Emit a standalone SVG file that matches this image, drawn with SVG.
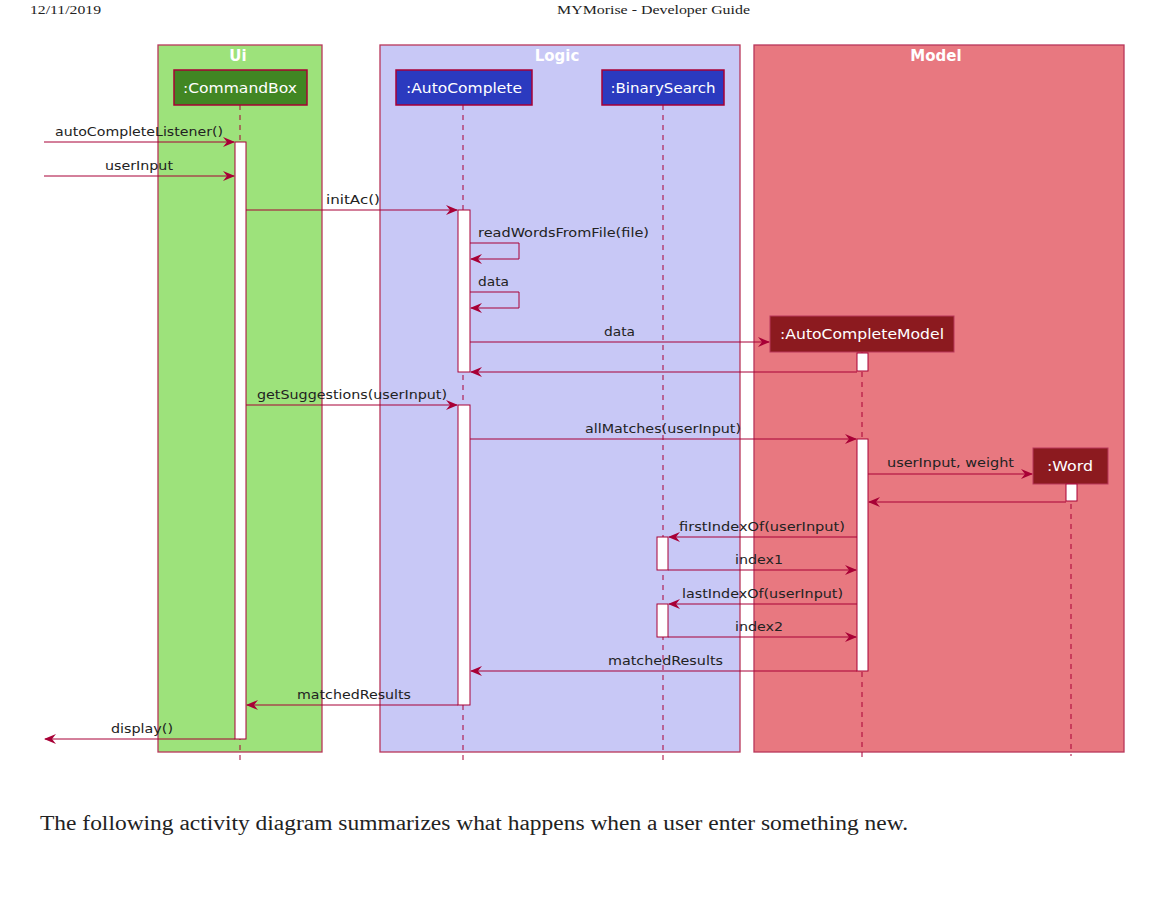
<svg xmlns="http://www.w3.org/2000/svg" width="1172" height="900" viewBox="0 0 1172 900">
<style>
.page{font-family:"Liberation Serif","Times New Roman",serif;fill:#222}
.grp{stroke:#B8365A;stroke-width:1.3}
.gt{font-family:"DejaVu Sans","Liberation Sans",sans-serif;font-weight:bold;font-size:15px;fill:#fff;text-anchor:middle}
.pt{font-family:"DejaVu Sans","Liberation Sans",sans-serif;font-size:14px;fill:#fff;text-anchor:middle}
.pbox{stroke:#A80036;stroke-width:1.5}
.life{stroke:#A80036;stroke-width:1;stroke-dasharray:5,5;fill:none}
.act{fill:#fff;stroke:#A80036;stroke-width:1}
.msg{stroke:#A80036;stroke-width:1;fill:none}
.lbl{font-family:"DejaVu Sans","Liberation Sans",sans-serif;font-size:13px;fill:#222}
</style>
<defs>
<marker id="ah" viewBox="0 0 12 10" refX="11" refY="5" markerWidth="12" markerHeight="10" markerUnits="userSpaceOnUse" orient="auto">
<path d="M0,0 L12,5 L0,10 L4,5 Z" fill="#A80036"/>
</marker>
</defs>
<rect width="1172" height="900" fill="#fff"/>
<text class="page" x="30" y="14" font-size="13" textLength="71" lengthAdjust="spacingAndGlyphs">12/11/2019</text>
<text class="page" x="557" y="14" font-size="13" textLength="193" lengthAdjust="spacingAndGlyphs">MYMorise - Developer Guide</text>

<g id="box-ui"><rect class="grp" x="158" y="45" width="164" height="707" fill="#9DE27B"/><text class="gt" x="238" y="61">Ui</text></g>
<g id="box-logic"><rect class="grp" x="380" y="45" width="360" height="707" fill="#C8C8F6"/><text class="gt" x="557" y="61">Logic</text></g>
<g id="box-model"><rect class="grp" x="754" y="45" width="370" height="707" fill="#E87880"/><text class="gt" x="936" y="61">Model</text></g>

<g id="lifelines">
<line class="life" x1="240" y1="105" x2="240" y2="760"/>
<line class="life" x1="463" y1="105" x2="463" y2="760"/>
<line class="life" x1="663" y1="105" x2="663" y2="760"/>
<line class="life" x1="862" y1="352" x2="862" y2="760"/>
<line class="life" x1="1071" y1="484" x2="1071" y2="756"/>
</g>

<g id="commandbox"><rect class="pbox" x="174" y="70" width="133" height="35" fill="#418623"/><text class="pt" x="240" y="93" textLength="114" lengthAdjust="spacingAndGlyphs">:CommandBox</text>
<rect class="act" x="235" y="142" width="11" height="597"/></g>
<g id="autocomplete"><rect class="pbox" x="396" y="70" width="136" height="35" fill="#2B3ABF"/><text class="pt" x="464" y="93" textLength="116" lengthAdjust="spacingAndGlyphs">:AutoComplete</text>
<rect class="act" x="458" y="210" width="12" height="162"/>
<rect class="act" x="458" y="405" width="12" height="300"/></g>
<g id="binarysearch"><rect class="pbox" x="602" y="70" width="122" height="35" fill="#2B3ABF"/><text class="pt" x="663" y="93" textLength="105" lengthAdjust="spacingAndGlyphs">:BinarySearch</text>
<rect class="act" x="657" y="537" width="11" height="33"/>
<rect class="act" x="657" y="604" width="11" height="33"/></g>
<g id="autocompletemodel"><rect x="770" y="316" width="184" height="36" fill="#8C1A1F" stroke="#B8365A" stroke-width="1"/><text class="pt" x="862" y="339" textLength="164" lengthAdjust="spacingAndGlyphs">:AutoCompleteModel</text>
<rect class="act" x="857" y="353" width="11" height="18"/>
<rect class="act" x="857" y="439" width="11" height="232"/></g>
<g id="word"><rect x="1033" y="448" width="75" height="36" fill="#8C1A1F" stroke="#B8365A" stroke-width="1"/><text class="pt" x="1070" y="471" textLength="46" lengthAdjust="spacingAndGlyphs">:Word</text>
<rect class="act" x="1066" y="484" width="11" height="17"/></g>

<g id="connectors">
<line class="msg" x1="44" y1="142" x2="234" y2="142" marker-end="url(#ah)"/>
<line class="msg" x1="44" y1="176" x2="234" y2="176" marker-end="url(#ah)"/>
<line class="msg" x1="246" y1="210" x2="457" y2="210" marker-end="url(#ah)"/>
<polyline class="msg" points="470,243 519,243 519,259 471,259" marker-end="url(#ah)"/>
<polyline class="msg" points="470,292 519,292 519,308 471,308" marker-end="url(#ah)"/>
<line class="msg" x1="470" y1="342" x2="769" y2="342" marker-end="url(#ah)"/>
<line class="msg" x1="857" y1="372" x2="471" y2="372" marker-end="url(#ah)"/>
<line class="msg" x1="246" y1="405" x2="457" y2="405" marker-end="url(#ah)"/>
<line class="msg" x1="470" y1="439" x2="856" y2="439" marker-end="url(#ah)"/>
<line class="msg" x1="868" y1="474" x2="1032" y2="474" marker-end="url(#ah)"/>
<line class="msg" x1="1066" y1="502" x2="869" y2="502" marker-end="url(#ah)"/>
<line class="msg" x1="857" y1="537" x2="669" y2="537" marker-end="url(#ah)"/>
<line class="msg" x1="668" y1="570" x2="856" y2="570" marker-end="url(#ah)"/>
<line class="msg" x1="857" y1="604" x2="669" y2="604" marker-end="url(#ah)"/>
<line class="msg" x1="668" y1="637" x2="856" y2="637" marker-end="url(#ah)"/>
<line class="msg" x1="857" y1="671" x2="471" y2="671" marker-end="url(#ah)"/>
<line class="msg" x1="458" y1="705" x2="247" y2="705" marker-end="url(#ah)"/>
<line class="msg" x1="235" y1="739" x2="45" y2="739" marker-end="url(#ah)"/>
</g>

<g id="labels">
<text class="lbl" x="55" y="136" textLength="168" lengthAdjust="spacingAndGlyphs">autoCompleteListener()</text>
<text class="lbl" x="105" y="170" textLength="68" lengthAdjust="spacingAndGlyphs">userInput</text>
<text class="lbl" x="326" y="204" textLength="54" lengthAdjust="spacingAndGlyphs">initAc()</text>
<text class="lbl" x="478" y="237" textLength="171" lengthAdjust="spacingAndGlyphs">readWordsFromFile(file)</text>
<text class="lbl" x="478" y="286" textLength="31" lengthAdjust="spacingAndGlyphs">data</text>
<text class="lbl" x="604" y="336" textLength="31" lengthAdjust="spacingAndGlyphs">data</text>
<text class="lbl" x="257" y="399" textLength="190" lengthAdjust="spacingAndGlyphs">getSuggestions(userInput)</text>
<text class="lbl" x="585" y="433" textLength="156" lengthAdjust="spacingAndGlyphs">allMatches(userInput)</text>
<text class="lbl" x="887" y="467" textLength="127" lengthAdjust="spacingAndGlyphs">userInput, weight</text>
<text class="lbl" x="679" y="531" textLength="166" lengthAdjust="spacingAndGlyphs">firstIndexOf(userInput)</text>
<text class="lbl" x="735" y="564" textLength="48" lengthAdjust="spacingAndGlyphs">index1</text>
<text class="lbl" x="682" y="598" textLength="161" lengthAdjust="spacingAndGlyphs">lastIndexOf(userInput)</text>
<text class="lbl" x="735" y="631" textLength="48" lengthAdjust="spacingAndGlyphs">index2</text>
<text class="lbl" x="608" y="665" textLength="115" lengthAdjust="spacingAndGlyphs">matchedResults</text>
<text class="lbl" x="297" y="699" textLength="114" lengthAdjust="spacingAndGlyphs">matchedResults</text>
<text class="lbl" x="111" y="733" textLength="62" lengthAdjust="spacingAndGlyphs">display()</text>
</g>

<text class="page" x="40" y="830" font-size="20" textLength="868" lengthAdjust="spacingAndGlyphs">The following activity diagram summarizes what happens when a user enter something new.</text>
</svg>
